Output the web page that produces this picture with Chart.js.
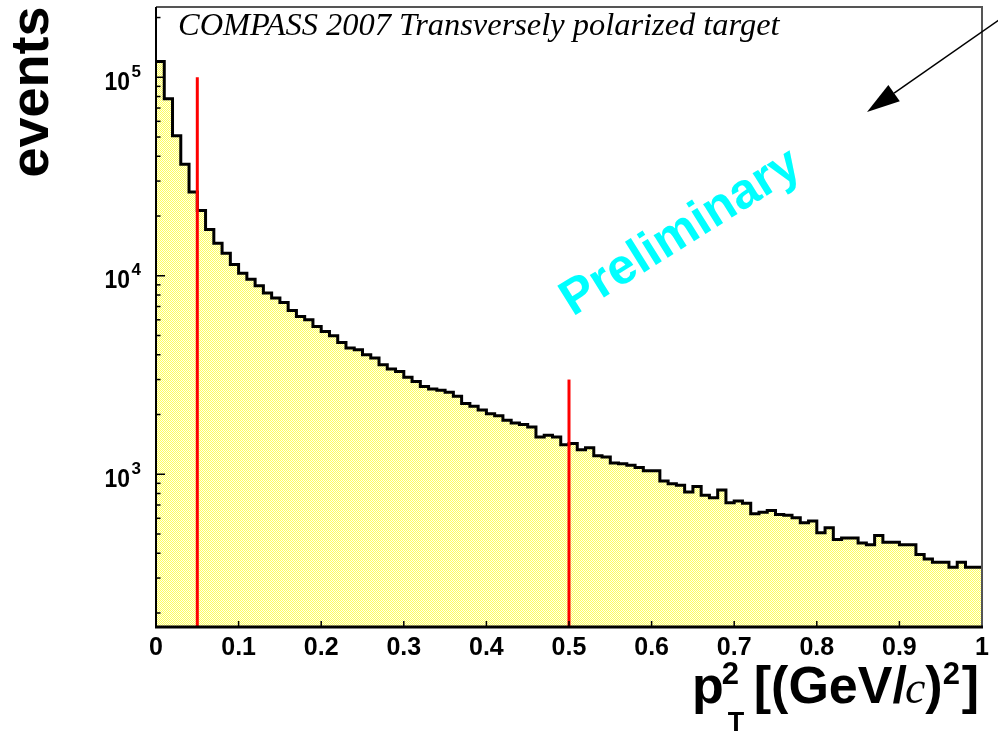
<!DOCTYPE html>
<html>
<head>
<meta charset="utf-8">
<script src="https://cdn.jsdelivr.net/npm/chart.js@4.4.1/dist/chart.umd.min.js"></script>
<style>
  html, body { margin: 0; padding: 0; background: #fff; }
  #wrap { width: 998px; height: 732px; }
</style>
</head>
<body>
<div id="wrap"><canvas id="myChart" width="998" height="732"></canvas></div>
<script>
// histogram of pT^2, 100 bins of 0.01 (GeV/c)^2
const binWidth = 0.01;
const counts = [
  120000, 77900, 50700, 36500, 26400, 21300, 17100, 14600, 13000, 11400,
  10300, 9600, 8900, 8180, 7720, 7340, 6680, 6240, 6000, 5550,
  5240, 4990, 4610, 4320, 4240, 4000, 3850, 3560, 3390, 3290,
  3080, 2930, 2770, 2690, 2650, 2590, 2470, 2270, 2200, 2110,
  2020, 1970, 1870, 1810, 1780, 1730, 1540, 1570, 1540, 1410,
  1430, 1330, 1360, 1240, 1220, 1140, 1130, 1110, 1080, 1040,
  1040, 925, 897, 880, 814, 867, 783, 762, 833, 719,
  733, 714, 632, 644, 657, 627, 622, 604, 570, 581,
  507, 537, 469, 478, 478, 451, 442, 492, 455, 455,
  442, 442, 394, 374, 360, 360, 340, 360, 340, 340
];

// cut lines (x position, top value)
const cutX = [0.05, 0.5];
const cutTop = [100000, 3000];

// axes
const xMin = 0, xMax = 1;
const yMin = 170, yMax = 226000;
const yMajor = [1000, 10000, 100000];
const xTickStep = 0.1;

const titleText = 'COMPASS 2007 Transversely polarized target';
const watermark = 'Preliminary';
const yTitle = 'events';

const narrow = "'Liberation Sans Narrow', 'Arial Narrow', 'Liberation Sans', Arial, sans-serif";
const sans = "'Liberation Sans', Arial, Helvetica, sans-serif";

// step points: left edge of each bin, plus closing point at x = 1
const histPoints = counts.map((c, i) => ({ x: i * binWidth, y: c }));
histPoints.push({ x: counts.length * binWidth, y: counts[counts.length - 1] });

// dithered yellow fill like the ROOT output
function makePattern() {
  const p = document.createElement('canvas');
  p.width = 2; p.height = 2;
  const c = p.getContext('2d');
  c.fillStyle = '#ffff5c'; c.fillRect(0, 0, 2, 2);
  c.fillStyle = '#ffffec'; c.fillRect(1, 0, 1, 1); c.fillRect(0, 1, 1, 1);
  return document.getElementById('myChart').getContext('2d').createPattern(p, 'repeat');
}

function drawParts(ctx, parts, x, baseline) {
  parts.forEach(p => {
    ctx.font = p.font;
    ctx.fillText(p.t, x + (p.dx || 0), baseline + (p.dy || 0));
    if (p.adv !== false) x += ctx.measureText(p.t).width + (p.dx || 0) + (p.gap || 0);
  });
  return x;
}

const overlay = {
  id: 'overlay',
  afterDatasetsDraw(chart) {
    const ctx = chart.ctx;
    const a = chart.chartArea;
    const xs = chart.scales.x, ys = chart.scales.y;
    ctx.save();

    // inward ticks on x
    ctx.strokeStyle = '#000';
    ctx.lineWidth = 1.5;
    xs.ticks.forEach(t => {
      const px = xs.getPixelForValue(t.value);
      ctx.beginPath(); ctx.moveTo(px, a.bottom); ctx.lineTo(px, a.bottom - 6); ctx.stroke();
    });
    // inward ticks on y (log: 1..9 x 10^n)
    ys.ticks.forEach(t => {
      const v = t.value;
      const e = Math.floor(Math.log10(v) + 1e-9);
      const m = v / Math.pow(10, e);
      if (Math.abs(m - Math.round(m)) > 1e-6) return;
      const py = ys.getPixelForValue(v);
      const len = Math.round(m) === 1 ? 9 : 4.5;
      ctx.beginPath(); ctx.moveTo(a.left, py); ctx.lineTo(a.left + len, py); ctx.stroke();
    });

    // frame
    ctx.strokeStyle = '#555';
    ctx.lineWidth = 2;
    ctx.beginPath();
    ctx.moveTo(a.left, a.top); ctx.lineTo(a.right, a.top); ctx.lineTo(a.right, a.bottom);
    ctx.stroke();
    ctx.strokeStyle = '#000';
    ctx.lineWidth = 2;
    ctx.beginPath(); ctx.moveTo(a.left, a.top); ctx.lineTo(a.left, a.bottom + 1); ctx.stroke();
    ctx.lineWidth = 3;
    ctx.beginPath(); ctx.moveTo(a.left - 1, a.bottom); ctx.lineTo(a.right + 1, a.bottom); ctx.stroke();

    // y labels 10^n
    ctx.fillStyle = '#000';
    ctx.textBaseline = 'alphabetic';
    ctx.textAlign = 'left';
    yMajor.forEach(v => {
      const py = ys.getPixelForValue(v);
      const exp = String(Math.round(Math.log10(v)));
      ctx.font = 'bold 26px ' + narrow;
      const w10 = ctx.measureText('10').width;
      const xr = 130;
      ctx.save();
      ctx.translate(xr, py + 12.5);
      ctx.scale(0.88, 1);
      ctx.fillText('10', -w10, 0);
      ctx.restore();
      ctx.font = 'bold 17px ' + narrow;
      ctx.fillText(exp, xr + 1.5, py - 0.5);
    });

    // title inside frame
    ctx.font = 'italic 27px "Liberation Serif", "Times New Roman", serif';
    const tw = ctx.measureText(titleText).width;
    const fs = 27 * 602 / tw;
    ctx.font = 'italic ' + fs.toFixed(2) + 'px "Liberation Serif", "Times New Roman", serif';
    ctx.fillStyle = '#000';
    ctx.fillText(titleText, 178, 35);

    // watermark
    ctx.save();
    ctx.translate(681, 233);
    ctx.rotate(-32 * Math.PI / 180);
    ctx.font = 'bold 50px ' + sans;
    ctx.fillStyle = '#00ffff';
    ctx.textAlign = 'center';
    ctx.textBaseline = 'middle';
    ctx.fillText(watermark, 0, 0);
    ctx.restore();

    // y axis title
    ctx.save();
    ctx.translate(48, 92);
    ctx.rotate(-Math.PI / 2);
    ctx.font = 'bold 54px ' + sans;
    ctx.textAlign = 'center';
    ctx.textBaseline = 'alphabetic';
    ctx.fillText(yTitle, 0, 0);
    ctx.restore();

    // x axis title: p_T^2 [(GeV/c)^2]
    ctx.textAlign = 'left';
    const big = 'bold 52px ' + sans;
    const sup = 'bold 31px ' + sans;
    let x = 692;
    x = drawParts(ctx, [{ t: 'p', font: big }], x, 703);
    drawParts(ctx, [{ t: '2', font: sup, dx: -2 }], x, 684);
    drawParts(ctx, [{ t: 'T', font: 'bold 27px ' + sans, dx: 4 }], x, 731);
    x += 30;
    x = drawParts(ctx, [{ t: '[(GeV/', font: big }], x, 703);
    x = drawParts(ctx, [{ t: 'c', font: 'italic 46px "Liberation Serif", serif', dx: -2 }], x, 703);
    x = drawParts(ctx, [{ t: ')', font: big }], x, 703);
    x = drawParts(ctx, [{ t: '2', font: sup, gap: 2 }], x, 684);
    drawParts(ctx, [{ t: ']', font: big }], x, 703);

    // arrow from top right corner
    const x0 = 999, y0 = 20, x1 = 867, y1 = 112;
    const ang = Math.atan2(y1 - y0, x1 - x0);
    const hl = 33, hw = 10;
    const bx = x1 - hl * Math.cos(ang), by = y1 - hl * Math.sin(ang);
    ctx.strokeStyle = '#000';
    ctx.lineWidth = 1.5;
    ctx.beginPath(); ctx.moveTo(x0, y0); ctx.lineTo(bx, by); ctx.stroke();
    ctx.fillStyle = '#000';
    ctx.beginPath();
    ctx.moveTo(x1, y1);
    ctx.lineTo(bx + hw * Math.sin(ang), by - hw * Math.cos(ang));
    ctx.lineTo(bx - hw * Math.sin(ang), by + hw * Math.cos(ang));
    ctx.closePath(); ctx.fill();

    ctx.restore();
  }
};

function initChart() {
  const ctx = document.getElementById('myChart').getContext('2d');
  const datasets = cutX.map((cx, i) => ({
    label: 'cut ' + cx,
    data: [{ x: cx, y: yMin }, { x: cx, y: cutTop[i] }],
    borderColor: '#ff0000',
    borderWidth: 3,
    pointRadius: 0,
    fill: false,
    order: 1
  }));
  datasets.push({
    label: 'events',
    data: histPoints,
    stepped: true,
    borderColor: '#000',
    borderWidth: 3,
    backgroundColor: makePattern(),
    fill: 'start',
    pointRadius: 0,
    order: 2
  });

  new Chart(ctx, {
    type: 'line',
    data: { datasets: datasets },
    options: {
      responsive: false,
      animation: false,
      devicePixelRatio: 1,
      layout: { padding: { left: 0, top: 7, right: 16, bottom: 0 } },
      plugins: { legend: { display: false }, tooltip: { enabled: false } },
      scales: {
        x: {
          type: 'linear',
          min: xMin,
          max: xMax,
          grid: { display: false, drawTicks: false },
          border: { display: false },
          ticks: {
            stepSize: xTickStep,
            padding: 6,
            color: '#000',
            font: { family: narrow, size: 25, weight: 'bold' },
            maxRotation: 0,
            callback: v => (v === 0 ? '0' : Math.abs(v - 1) < 1e-9 ? '1' : v.toFixed(1))
          },
          afterFit: s => { s.height = 105; }
        },
        y: {
          type: 'logarithmic',
          min: yMin,
          max: yMax,
          grid: { display: false, drawTicks: false },
          border: { display: false },
          ticks: { display: false },
          afterFit: s => { s.width = 156; }
        }
      }
    },
    plugins: [overlay]
  });
}

window.onload = initChart;
</script>
</body>
</html>
